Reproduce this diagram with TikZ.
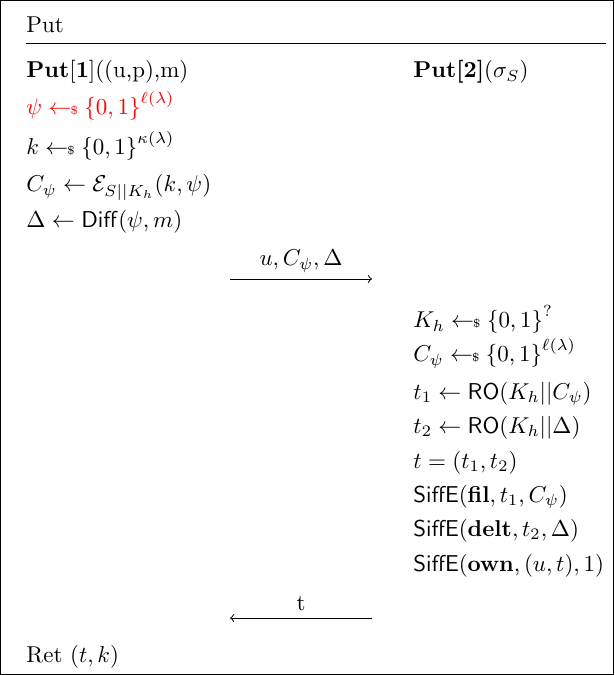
\documentclass[tikz,border=0pt]{standalone}
\usepackage{amsmath,amssymb}
\newcommand{\samp}{\mathrel{\leftarrow\!\!{\scriptscriptstyle\$}}}
\newcommand{\bits}{{\{0,1\}}}
\begin{document}
\begin{tikzpicture}[x=0.436pt,y=-0.436pt,
    codeline/.style={anchor=base west, inner sep=0pt},
    msglabel/.style={anchor=base, inner sep=0pt}]
        \useasboundingbox (0,0) rectangle (614,675);
        \draw (0.5,0.5) rectangle (613.5,674.5);
        \node[codeline] (title) at (26,33) {Put};
        \draw (26,43) -- (606,43);
        % user side
        \node[codeline] (U0) at (26,78) {\textbf{Put}$[\textbf{1}]$((u,p),m)};
        \node[codeline, red] (U1) at (26,115) {$\psi \samp \bits^{\ell(\lambda)}$};
        \node[codeline] (U2) at (26,155) {$k \samp \bits^{\kappa(\lambda)}$};
        \node[codeline] (U3) at (26,192) {$C_\psi \leftarrow \mathcal{E}_{S||K_h}(k,\psi)$};
        \node[codeline] (U4) at (26,228) {$\Delta \leftarrow \mathsf{Diff}(\psi,m)$};
        \node[codeline] (U5) at (26,662) {Ret $(t,k)$};
        % server side
        \node[codeline] (S0) at (413,78) {\textbf{Put[2]}($\sigma_S$)};
        \node[codeline] (S1) at (413,328) {$K_h \samp \bits^{?}$};
        \node[codeline] (S2) at (413,362) {$C_\psi \samp \bits^{\ell(\lambda)}$};
        \node[codeline] (S3) at (413,399) {$t_1 \leftarrow \mathsf{RO}(K_h||C_\psi)$};
        \node[codeline] (S4) at (413,433) {$t_2 \leftarrow \mathsf{RO}(K_h||\Delta)$};
        \node[codeline] (S5) at (413,468) {$t = (t_1,t_2)$};
        \node[codeline] (S6) at (413,502) {$\mathsf{SiffE}(\mathbf{fil},t_1,C_\psi)$};
        \node[codeline] (S7) at (413,536) {$\mathsf{SiffE}(\mathbf{delt},t_2,\Delta)$};
        \node[codeline] (S8) at (413,571) {$\mathsf{SiffE}(\mathbf{own},(u,t),1)$};
        % messages
        \coordinate (A1) at (230,279);
        \coordinate (B1) at (372,279);
        \coordinate (A2) at (230,618);
        \coordinate (B2) at (372,618);
        \node[msglabel] (M1) at (301,266) {$u, C_\psi, \Delta$};
        \node[msglabel] (M2) at (301,610) {t};
        \draw[->] (A1) -- (B1);
        \draw[<-] (A2) -- (B2);
    \end{tikzpicture}
\end{document}
